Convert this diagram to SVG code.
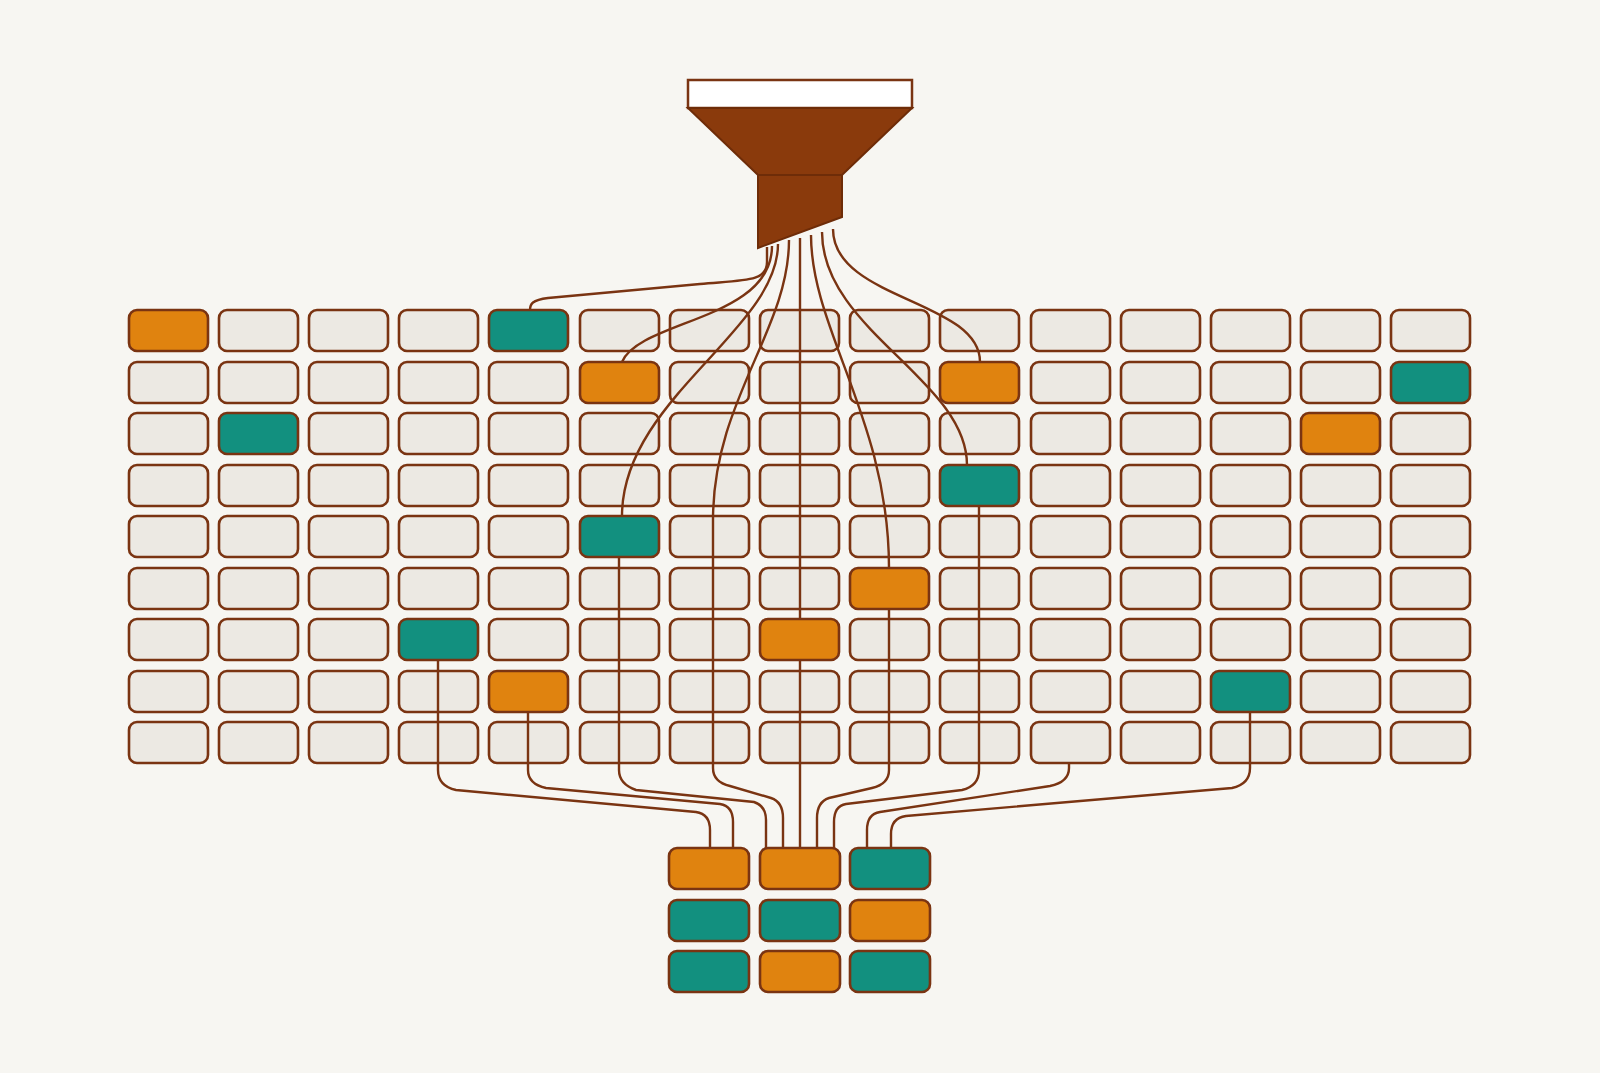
<svg xmlns="http://www.w3.org/2000/svg" width="1600" height="1073" viewBox="0 0 1600 1073">
<style>
rect.c{fill:#ece9e3;stroke:#7a3412;stroke-width:2.6}
rect.o{fill:#e0830f}
rect.t{fill:#12907f}
.w path{fill:none;stroke:#7a3412;stroke-width:2.4}
</style>
<rect width="1600" height="1073" fill="#f7f6f2"/>
<g id="funnel">
<rect x="688" y="80" width="224" height="28" fill="#fff" stroke="#7a3412" stroke-width="2.5"/>
<path d="M688,108 H912 L842,175 H758 Z" fill="#8a3a0c" stroke="#6e2c08" stroke-width="2"/>
<path d="M758,175 H842 V217 L758,248 Z" fill="#8a3a0c" stroke="#6e2c08" stroke-width="2"/>
</g>
<g id="grid">
<g id="r0"><rect class="c" x="219" y="310" width="79" height="41" rx="8"/><rect class="c" x="309" y="310" width="79" height="41" rx="8"/><rect class="c" x="399" y="310" width="79" height="41" rx="8"/><rect class="c" x="580" y="310" width="79" height="41" rx="8"/><rect class="c" x="670" y="310" width="79" height="41" rx="8"/><rect class="c" x="760" y="310" width="79" height="41" rx="8"/><rect class="c" x="850" y="310" width="79" height="41" rx="8"/><rect class="c" x="940" y="310" width="79" height="41" rx="8"/><rect class="c" x="1031" y="310" width="79" height="41" rx="8"/><rect class="c" x="1121" y="310" width="79" height="41" rx="8"/><rect class="c" x="1211" y="310" width="79" height="41" rx="8"/><rect class="c" x="1301" y="310" width="79" height="41" rx="8"/><rect class="c" x="1391" y="310" width="79" height="41" rx="8"/></g>
<g id="r1"><rect class="c" x="129" y="362" width="79" height="41" rx="8"/><rect class="c" x="219" y="362" width="79" height="41" rx="8"/><rect class="c" x="309" y="362" width="79" height="41" rx="8"/><rect class="c" x="399" y="362" width="79" height="41" rx="8"/><rect class="c" x="489" y="362" width="79" height="41" rx="8"/><rect class="c" x="670" y="362" width="79" height="41" rx="8"/><rect class="c" x="760" y="362" width="79" height="41" rx="8"/><rect class="c" x="850" y="362" width="79" height="41" rx="8"/><rect class="c" x="1031" y="362" width="79" height="41" rx="8"/><rect class="c" x="1121" y="362" width="79" height="41" rx="8"/><rect class="c" x="1211" y="362" width="79" height="41" rx="8"/><rect class="c" x="1301" y="362" width="79" height="41" rx="8"/></g>
<g id="r2"><rect class="c" x="129" y="413" width="79" height="41" rx="8"/><rect class="c" x="309" y="413" width="79" height="41" rx="8"/><rect class="c" x="399" y="413" width="79" height="41" rx="8"/><rect class="c" x="489" y="413" width="79" height="41" rx="8"/><rect class="c" x="580" y="413" width="79" height="41" rx="8"/><rect class="c" x="670" y="413" width="79" height="41" rx="8"/><rect class="c" x="760" y="413" width="79" height="41" rx="8"/><rect class="c" x="850" y="413" width="79" height="41" rx="8"/><rect class="c" x="940" y="413" width="79" height="41" rx="8"/><rect class="c" x="1031" y="413" width="79" height="41" rx="8"/><rect class="c" x="1121" y="413" width="79" height="41" rx="8"/><rect class="c" x="1211" y="413" width="79" height="41" rx="8"/><rect class="c" x="1391" y="413" width="79" height="41" rx="8"/></g>
<g id="r3"><rect class="c" x="129" y="465" width="79" height="41" rx="8"/><rect class="c" x="219" y="465" width="79" height="41" rx="8"/><rect class="c" x="309" y="465" width="79" height="41" rx="8"/><rect class="c" x="399" y="465" width="79" height="41" rx="8"/><rect class="c" x="489" y="465" width="79" height="41" rx="8"/><rect class="c" x="580" y="465" width="79" height="41" rx="8"/><rect class="c" x="670" y="465" width="79" height="41" rx="8"/><rect class="c" x="760" y="465" width="79" height="41" rx="8"/><rect class="c" x="850" y="465" width="79" height="41" rx="8"/><rect class="c" x="1031" y="465" width="79" height="41" rx="8"/><rect class="c" x="1121" y="465" width="79" height="41" rx="8"/><rect class="c" x="1211" y="465" width="79" height="41" rx="8"/><rect class="c" x="1301" y="465" width="79" height="41" rx="8"/><rect class="c" x="1391" y="465" width="79" height="41" rx="8"/></g>
<g id="r4"><rect class="c" x="129" y="516" width="79" height="41" rx="8"/><rect class="c" x="219" y="516" width="79" height="41" rx="8"/><rect class="c" x="309" y="516" width="79" height="41" rx="8"/><rect class="c" x="399" y="516" width="79" height="41" rx="8"/><rect class="c" x="489" y="516" width="79" height="41" rx="8"/><rect class="c" x="670" y="516" width="79" height="41" rx="8"/><rect class="c" x="760" y="516" width="79" height="41" rx="8"/><rect class="c" x="850" y="516" width="79" height="41" rx="8"/><rect class="c" x="940" y="516" width="79" height="41" rx="8"/><rect class="c" x="1031" y="516" width="79" height="41" rx="8"/><rect class="c" x="1121" y="516" width="79" height="41" rx="8"/><rect class="c" x="1211" y="516" width="79" height="41" rx="8"/><rect class="c" x="1301" y="516" width="79" height="41" rx="8"/><rect class="c" x="1391" y="516" width="79" height="41" rx="8"/></g>
<g id="r5"><rect class="c" x="129" y="568" width="79" height="41" rx="8"/><rect class="c" x="219" y="568" width="79" height="41" rx="8"/><rect class="c" x="309" y="568" width="79" height="41" rx="8"/><rect class="c" x="399" y="568" width="79" height="41" rx="8"/><rect class="c" x="489" y="568" width="79" height="41" rx="8"/><rect class="c" x="580" y="568" width="79" height="41" rx="8"/><rect class="c" x="670" y="568" width="79" height="41" rx="8"/><rect class="c" x="760" y="568" width="79" height="41" rx="8"/><rect class="c" x="940" y="568" width="79" height="41" rx="8"/><rect class="c" x="1031" y="568" width="79" height="41" rx="8"/><rect class="c" x="1121" y="568" width="79" height="41" rx="8"/><rect class="c" x="1211" y="568" width="79" height="41" rx="8"/><rect class="c" x="1301" y="568" width="79" height="41" rx="8"/><rect class="c" x="1391" y="568" width="79" height="41" rx="8"/></g>
<g id="r6"><rect class="c" x="129" y="619" width="79" height="41" rx="8"/><rect class="c" x="219" y="619" width="79" height="41" rx="8"/><rect class="c" x="309" y="619" width="79" height="41" rx="8"/><rect class="c" x="489" y="619" width="79" height="41" rx="8"/><rect class="c" x="580" y="619" width="79" height="41" rx="8"/><rect class="c" x="670" y="619" width="79" height="41" rx="8"/><rect class="c" x="850" y="619" width="79" height="41" rx="8"/><rect class="c" x="940" y="619" width="79" height="41" rx="8"/><rect class="c" x="1031" y="619" width="79" height="41" rx="8"/><rect class="c" x="1121" y="619" width="79" height="41" rx="8"/><rect class="c" x="1211" y="619" width="79" height="41" rx="8"/><rect class="c" x="1301" y="619" width="79" height="41" rx="8"/><rect class="c" x="1391" y="619" width="79" height="41" rx="8"/></g>
<g id="r7"><rect class="c" x="129" y="671" width="79" height="41" rx="8"/><rect class="c" x="219" y="671" width="79" height="41" rx="8"/><rect class="c" x="309" y="671" width="79" height="41" rx="8"/><rect class="c" x="399" y="671" width="79" height="41" rx="8"/><rect class="c" x="580" y="671" width="79" height="41" rx="8"/><rect class="c" x="670" y="671" width="79" height="41" rx="8"/><rect class="c" x="760" y="671" width="79" height="41" rx="8"/><rect class="c" x="850" y="671" width="79" height="41" rx="8"/><rect class="c" x="940" y="671" width="79" height="41" rx="8"/><rect class="c" x="1031" y="671" width="79" height="41" rx="8"/><rect class="c" x="1121" y="671" width="79" height="41" rx="8"/><rect class="c" x="1301" y="671" width="79" height="41" rx="8"/><rect class="c" x="1391" y="671" width="79" height="41" rx="8"/></g>
<g id="r8"><rect class="c" x="129" y="722" width="79" height="41" rx="8"/><rect class="c" x="219" y="722" width="79" height="41" rx="8"/><rect class="c" x="309" y="722" width="79" height="41" rx="8"/><rect class="c" x="399" y="722" width="79" height="41" rx="8"/><rect class="c" x="489" y="722" width="79" height="41" rx="8"/><rect class="c" x="580" y="722" width="79" height="41" rx="8"/><rect class="c" x="670" y="722" width="79" height="41" rx="8"/><rect class="c" x="760" y="722" width="79" height="41" rx="8"/><rect class="c" x="850" y="722" width="79" height="41" rx="8"/><rect class="c" x="940" y="722" width="79" height="41" rx="8"/><rect class="c" x="1031" y="722" width="79" height="41" rx="8"/><rect class="c" x="1121" y="722" width="79" height="41" rx="8"/><rect class="c" x="1211" y="722" width="79" height="41" rx="8"/><rect class="c" x="1301" y="722" width="79" height="41" rx="8"/><rect class="c" x="1391" y="722" width="79" height="41" rx="8"/></g>
</g>
<g id="connectors" class="w">
<path d="M767,247 V262 C767,282 745,280 700,284 L548,298 C532,300 530,304 530,310"/>
<path d="M772,246 C772,320 640,320 622,362"/>
<path d="M778,244 C778,330 622,400 622,516"/>
<path d="M789,240 C789,330 713,400 713,520 V768 Q713,782 730,786 L771,798 Q783,802 783,818 V848"/>
<path d="M800,238 V848"/>
<path d="M811,235 C811,330 889,420 889,568"/>
<path d="M822,232 C822,330 967,380 967,465"/>
<path d="M833,229 C833,300 980,300 980,362"/>
<path d="M438,660 V770 Q438,786 456,790 L696,812 Q710,814 710,830 V848"/>
<path d="M528,711 V770 Q528,784 546,788 L720,804 Q733,806 733,822 V848"/>
<path d="M619,557 V770 Q619,784 636,790 L754,802 Q766,806 766,820 V848"/>
<path d="M889,609 V770 Q889,784 872,788 L829,798 Q817,802 817,818 V848"/>
<path d="M979,506 V770 Q979,786 962,790 L846,804 Q834,806 834,822 V848"/>
<path d="M1069,763 V768 Q1069,782 1050,786 L880,812 Q867,814 867,830 V848"/>
<path d="M1250,712 V768 Q1250,784 1232,788 L906,816 Q891,818 891,834 V848"/>
</g>
<g id="highlights">
<rect class="c o" x="129" y="310" width="79" height="41" rx="8"/><rect class="c t" x="489" y="310" width="79" height="41" rx="8"/>
<rect class="c o" x="580" y="362" width="79" height="41" rx="8"/><rect class="c o" x="940" y="362" width="79" height="41" rx="8"/><rect class="c t" x="1391" y="362" width="79" height="41" rx="8"/>
<rect class="c t" x="219" y="413" width="79" height="41" rx="8"/><rect class="c o" x="1301" y="413" width="79" height="41" rx="8"/>
<rect class="c t" x="940" y="465" width="79" height="41" rx="8"/>
<rect class="c t" x="580" y="516" width="79" height="41" rx="8"/>
<rect class="c o" x="850" y="568" width="79" height="41" rx="8"/>
<rect class="c t" x="399" y="619" width="79" height="41" rx="8"/><rect class="c o" x="760" y="619" width="79" height="41" rx="8"/>
<rect class="c o" x="489" y="671" width="79" height="41" rx="8"/><rect class="c t" x="1211" y="671" width="79" height="41" rx="8"/>
</g>
<g id="output">
<rect class="c o" x="669" y="848" width="80" height="41" rx="8"/><rect class="c o" x="760" y="848" width="80" height="41" rx="8"/><rect class="c t" x="850" y="848" width="80" height="41" rx="8"/>
<rect class="c t" x="669" y="900" width="80" height="41" rx="8"/><rect class="c t" x="760" y="900" width="80" height="41" rx="8"/><rect class="c o" x="850" y="900" width="80" height="41" rx="8"/>
<rect class="c t" x="669" y="951" width="80" height="41" rx="8"/><rect class="c o" x="760" y="951" width="80" height="41" rx="8"/><rect class="c t" x="850" y="951" width="80" height="41" rx="8"/>
</g>
</svg>
